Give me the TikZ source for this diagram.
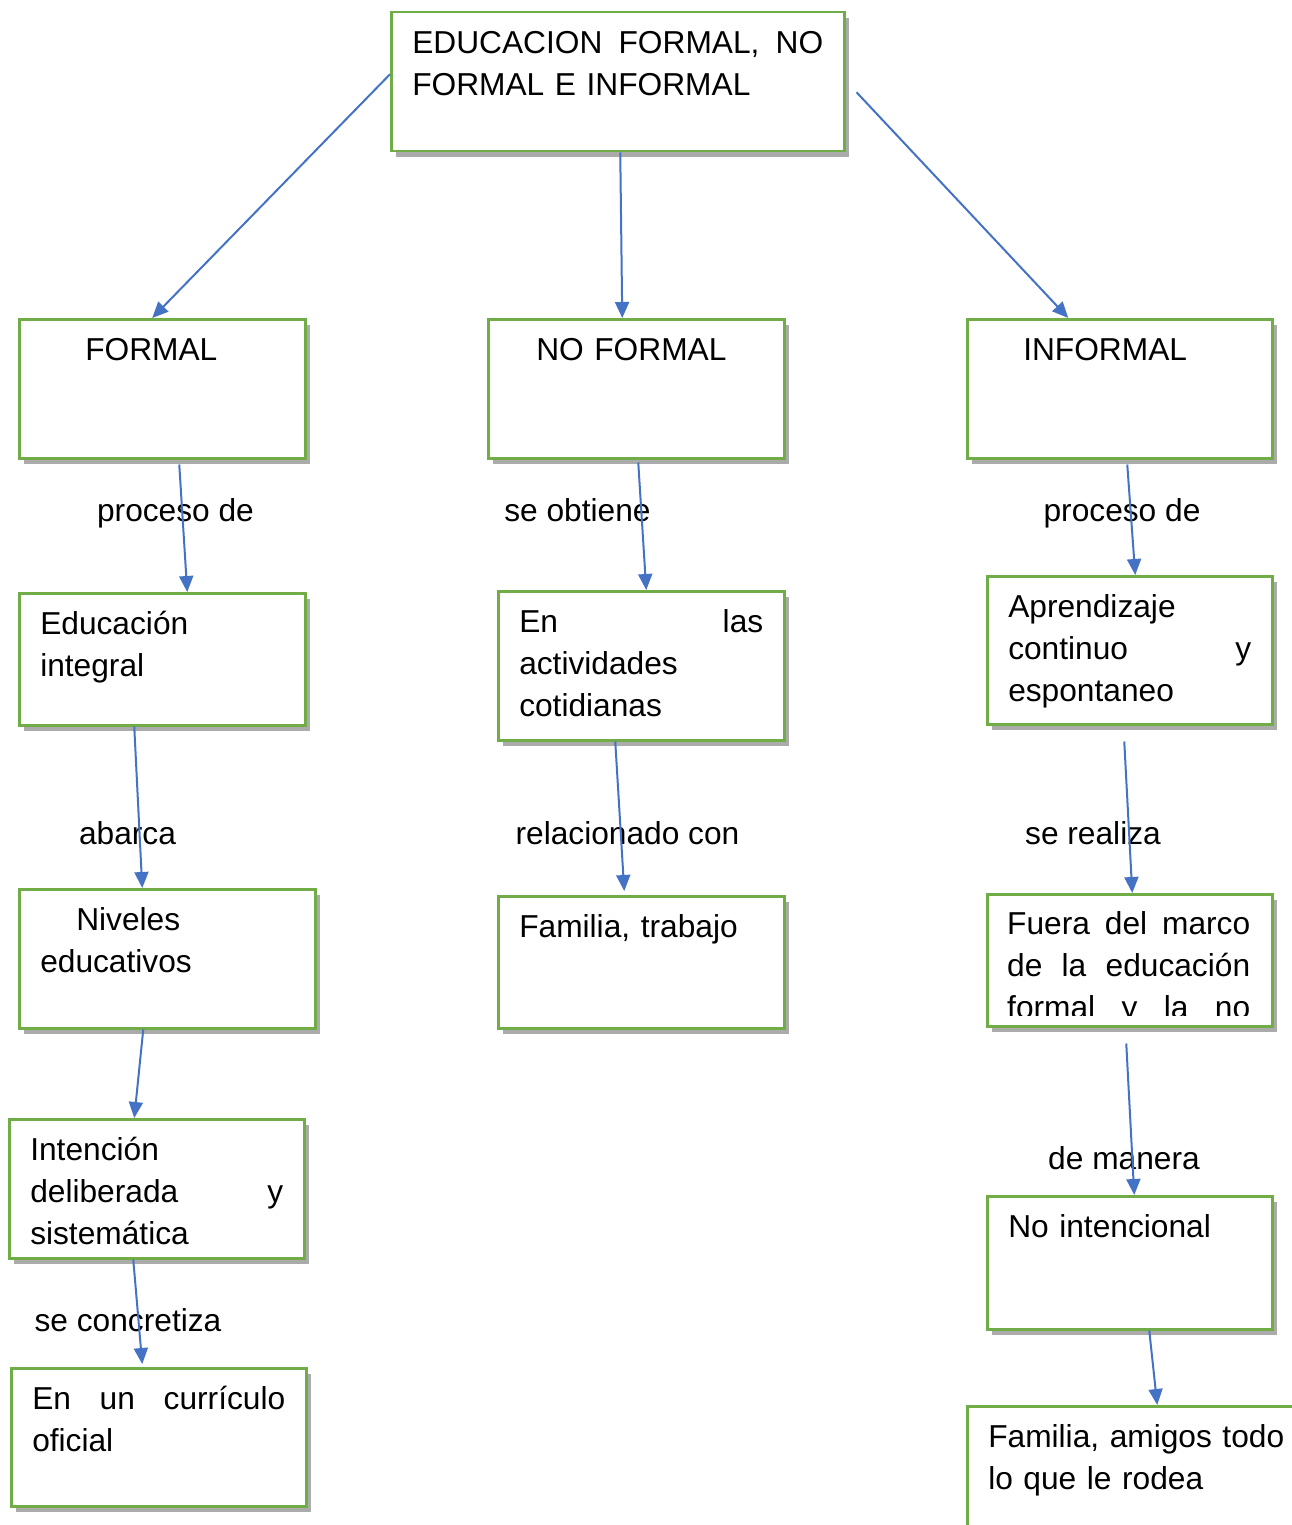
\documentclass[tikz,border=0pt]{standalone}
\usepackage{fontspec}
\setmainfont{Liberation Sans}
\usetikzlibrary{arrows.meta,shadows}
\definecolor{verdecaja}{HTML}{70AD47}
\definecolor{azulflecha}{HTML}{4472C4}

\begin{document}
\begin{tikzpicture}[x=1pt,y=-1pt,
    caja/.style={draw=verdecaja,line width=2.5pt,fill=white,anchor=north west,
      inner xsep=21pt,inner ysep=0pt,text height=41pt,align=left,
      font=\fontsize{31.7}{42}\selectfont,
      drop shadow={shadow xshift=5pt,shadow yshift=-6pt,fill=black!60,opacity=0.55}},
    texto/.style={anchor=north west,inner xsep=21pt,inner ysep=0pt,text height=41pt,
      align=left,font=\fontsize{31.7}{42}\selectfont},
    enlace/.style={draw=azulflecha,line width=2pt,-{Triangle[length=16pt,width=14pt]}},
    rotulo/.style={anchor=base,inner sep=0pt,font=\fontsize{31.7}{42}\selectfont}]
    \useasboundingbox (0,0) rectangle (1292,1525);

    \node[caja,text width=411pt,text depth=98pt] (educacion) at (390,11)
      {EDUCACION\hfill FORMAL,\hfill NO\\FORMAL E INFORMAL};

    \node[caja,text width=244pt,text depth=98pt] (formal) at (18,318) {\hspace*{45pt}FORMAL};
    \node[caja,text width=254pt,text depth=98pt] (noformal) at (487,318) {\hspace*{27pt}NO FORMAL};
    \node[caja,text width=263pt,text depth=98pt] (informal) at (966,318) {\hspace*{35pt}INFORMAL};

    \node[caja,text width=244pt,text depth=91pt] (integral) at (18,592) {Educación\\integral};
    \node[caja,text width=244pt,text depth=108pt] (actividades) at (497,590)
      {En\hfill las\\actividades\\cotidianas};
    \node[caja,text width=243pt,text depth=107pt] (aprendizaje) at (986,575)
      {Aprendizaje\\continuo\hfill y\\espontaneo};

    \node[caja,text width=254pt,text depth=98pt] (niveles) at (18,888)
      {\hspace*{36pt}Niveles\\educativos};
    \node[caja,text width=244pt,text depth=91pt] (familia) at (497,895) {Familia, trabajo};
    \node[caja,text width=243pt,text depth=91pt] (fuera) at (986,893) {};
    \begin{scope}
      \clip (fuera.north west) rectangle ([yshift=12pt]fuera.south east);
      \node[texto,text width=243pt] (fueratexto) at (fuera.north west)
        {Fuera\hfill del\hfill marco\\de\hfill la\hfill educación\\formal\hfill y\hfill la\hfill no};
    \end{scope}

    \node[caja,text width=253pt,text depth=98pt] (intencion) at (8,1118)
      {Intención\\deliberada\hfill y\\sistemática};
    \node[caja,text width=243pt,text depth=92pt] (nointencional) at (986,1195) {No intencional};

    \node[caja,text width=253pt,text depth=97pt] (curriculo) at (10,1367)
      {En\hfill un\hfill currículo\\oficial};
    \node[caja,text width=320pt,text depth=89pt] (rodea) at (966,1405)
      {Familia, amigos todo\\lo que le rodea};

    \node[rotulo] (procesoa) at (175.5,521) {proceso de};
    \node[rotulo] (obtiene) at (577.5,521) {se obtiene};
    \node[rotulo] (procesob) at (1122,521) {proceso de};
    \node[rotulo] (abarca) at (127.5,844) {abarca};
    \node[rotulo] (relacionado) at (627.5,844) {relacionado con};
    \node[rotulo] (realiza) at (1093,844) {se realiza};
    \node[rotulo] (manera) at (1124,1169) {de manera};
    \node[rotulo] (concretiza) at (128,1331) {se concretiza};

    \draw[enlace] ([yshift=7.5pt]educacion.west) -- ([xshift=-10pt]formal.north);
    \draw[enlace] ([xshift=2.5pt]educacion.south) -- ([xshift=-14pt]noformal.north);
    \draw[enlace] ([xshift=11pt,yshift=-10.5pt]educacion.east) -- ([xshift=-51.5pt]informal.north);

    \draw[enlace] ([xshift=17pt,yshift=-5pt]formal.south) -- ([xshift=25pt]integral.north);
    \draw[enlace] ([xshift=2pt,yshift=-3pt]noformal.south) -- ([xshift=5pt]actividades.north);
    \draw[enlace] ([xshift=7.5pt,yshift=-5pt]informal.south) -- ([xshift=5.5pt]aprendizaje.north);

    \draw[enlace] ([xshift=-28pt]integral.south) -- ([xshift=-25pt]niveles.north);
    \draw[enlace] ([xshift=-26pt]actividades.south) -- ([xshift=-17pt,yshift=4pt]familia.north);
    \draw[enlace] ([xshift=-5.5pt,yshift=-16pt]aprendizaje.south) -- ([xshift=2.5pt]fuera.north);

    \draw[enlace] ([xshift=-24pt]niveles.south) -- ([xshift=-22.5pt]intencion.north);
    \draw[enlace] ([xshift=-3.5pt,yshift=-16pt]fuera.south) -- ([xshift=4.5pt]nointencional.north);

    \draw[enlace] ([xshift=-23.5pt]intencion.south) -- ([xshift=-16.5pt,yshift=3pt]curriculo.north);
    \draw[enlace] ([xshift=19.5pt]nointencional.south) -- ([xshift=9pt]rodea.north);
\end{tikzpicture}
\end{document}
